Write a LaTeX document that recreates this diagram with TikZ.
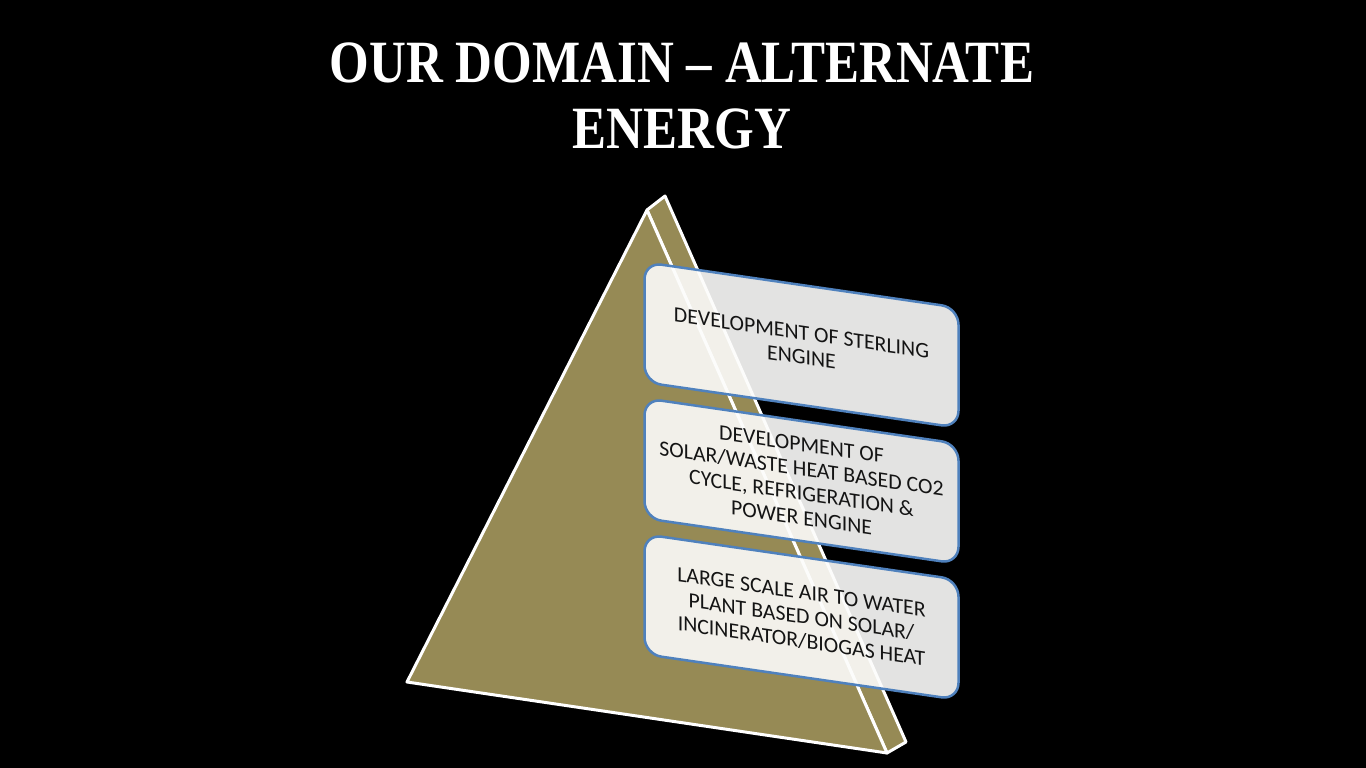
\documentclass[tikz,border=0pt]{standalone}
\usepackage{fontspec}
\setmainfont{Carlito}
\newfontfamily\titlefont{Liberation Serif}
\usetikzlibrary{positioning}
\definecolor{khaki}{RGB}{150,138,85}
\definecolor{boxblue}{RGB}{79,129,189}
\definecolor{boxfill}{RGB}{252,252,251}
\definecolor{boxtext}{RGB}{20,20,20}

\begin{document}
\begin{tikzpicture}[x=1pt, y=-1pt,
    face/.style={fill=khaki, draw=white, line width=3pt, line join=round},
    stage/.style={draw=boxblue, line width=2.5pt, fill=boxfill, fill opacity=0.9, text opacity=1,
        rounded corners=17pt, minimum width=314pt, minimum height=120pt, inner sep=2pt,
        yslant=-0.145, transform shape, align=center, text=boxtext,
        font=\fontsize{21.8}{24.5}\selectfont},
    titletext/.style={text=white, font=\titlefont\bfseries\fontsize{60}{66}\selectfont, inner sep=0pt}]
        % Background
        \fill[black] (0,0) rectangle (1366,768);
        \useasboundingbox (0,0) rectangle (1366,768);

        % Title
        \node[titletext, anchor=base] (title) at (682,82) {\scalebox{0.85}[1]{OUR DOMAIN \textendash{} ALTERNATE}};
        \node[titletext, anchor=base] (energy) at ([yshift=-66pt]title.base) {\scalebox{0.85}[1]{ENERGY}};

        % Pyramid corners
        \coordinate (apex) at (647,210);
        \coordinate (baseL) at (407,682);
        \coordinate (baseR) at (887,753);
        \coordinate (sidetop) at (665,196);
        \coordinate (sidebot) at (906,742);

        % Side face, then front face
        \draw[face] (apex) -- (sidetop) -- (sidebot) -- (baseR) -- cycle;
        \draw[face] (apex) -- (baseL) -- (baseR) -- cycle;

        % Domain boxes
        \node[stage] (sterling) at (801.5,345) {DEVELOPMENT OF STERLING\\ENGINE};
        \node[stage] (co2) at (801.5,481) {DEVELOPMENT OF\\SOLAR/WASTE HEAT BASED CO2\\CYCLE, REFRIGERATION \&\\POWER ENGINE};
        \node[stage] (water) at (801.5,617) {LARGE SCALE AIR TO WATER\\PLANT BASED ON SOLAR/\\INCINERATOR/BIOGAS HEAT};
    \end{tikzpicture}
\end{document}
